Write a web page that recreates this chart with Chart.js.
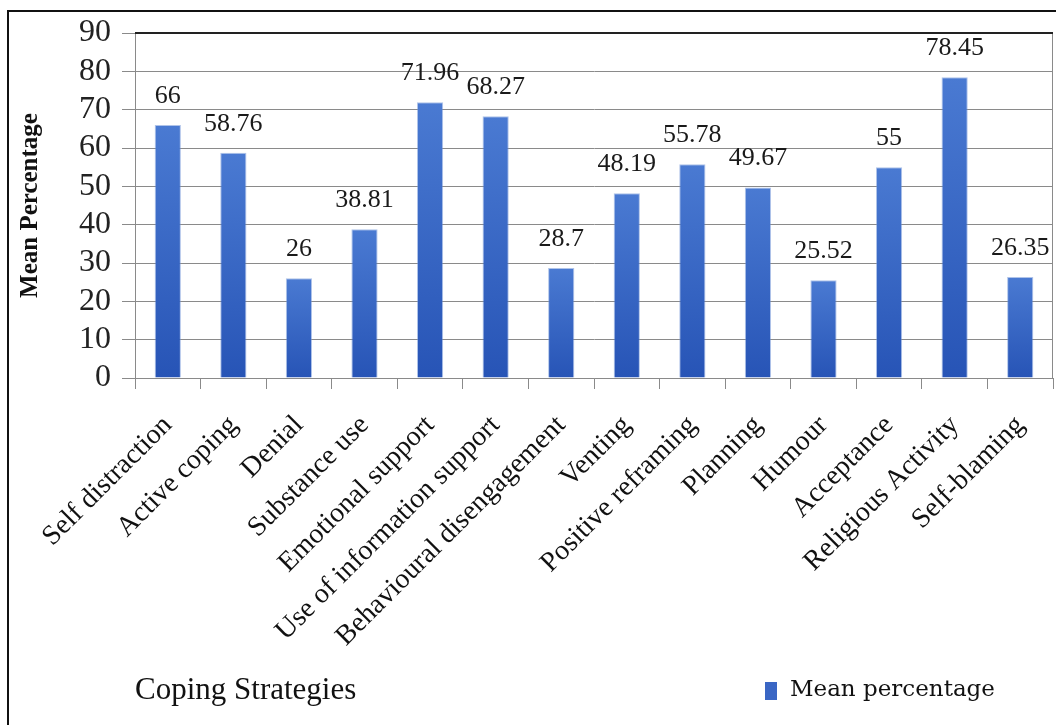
<!DOCTYPE html>
<html>
<head>
<meta charset="utf-8">
<script src="https://cdn.jsdelivr.net/npm/chart.js@4.4.1/dist/chart.umd.min.js"></script>
<style>
html, body { margin: 0; padding: 0; background: #fff; }
#frame { position: absolute; left: 7px; top: 10px; width: 1100px; height: 800px; border: 2px solid #111; }
#wrap { position: absolute; left: 0; top: 0; width: 1056px; height: 725px; }
</style>
</head>
<body>
<div id="frame"></div>
<div id="wrap"><canvas id="chart" width="1056" height="725"></canvas></div>
<script>
// coping strategy categories and the mean percentage for each
var strategies = ["Self distraction", "Active coping", "Denial", "Substance use", "Emotional support",
    "Use of information support", "Behavioural disengagement", "Venting", "Positive reframing",
    "Planning", "Humour", "Acceptance", "Religious Activity", "Self-blaming"];
var meanPercent = [66, 58.76, 26, 38.81, 71.96, 68.27, 28.7, 48.19, 55.78, 49.67, 25.52, 55, 78.45, 26.35];
var yTicks = [0, 10, 20, 30, 40, 50, 60, 70, 80, 90];
var seriesName = 'Mean percentage';

var serif = "'Liberation Serif', 'Times New Roman', serif";

function barFill(ctx){
    var chart = ctx.chart;
    if (ctx.type !== 'data' || !chart.chartArea) return '#3a66c4';
    var y = chart.scales.y;
    var g = chart.ctx.createLinearGradient(0, y.getPixelForValue(0), 0, y.getPixelForValue(ctx.raw));
    g.addColorStop(0, '#2754b6');
    g.addColorStop(1, '#4a7ad2');
    return g;
}

// value labels above each bar
var barLabels = {
    id: 'barLabels',
    afterDatasetsDraw: function(chart){
        var c = chart.ctx;
        var meta = chart.getDatasetMeta(0);
        c.save();
        c.font = "26px " + serif;
        c.fillStyle = '#1a1a1a';
        c.textAlign = 'center';
        c.textBaseline = 'middle';
        meta.data.forEach(function(bar, i){
            c.fillText(String(meanPercent[i]), bar.x, bar.y - 29);
        });
        c.restore();
    }
};

// plot area frame (top + right edges)
var plotFrame = {
    id: 'plotFrame',
    beforeDatasetsDraw: function(chart){
        var a = chart.chartArea, c = chart.ctx;
        c.save();
        c.strokeStyle = '#8a8a8a';
        c.lineWidth = 1;
        c.beginPath();
        c.moveTo(a.right - 0.5, a.top);
        c.lineTo(a.right - 0.5, a.bottom);
        c.stroke();
        c.strokeStyle = '#222';
        c.lineWidth = 2;
        c.beginPath();
        c.moveTo(a.left, a.top);
        c.lineTo(a.right, a.top);
        c.stroke();
        c.restore();
    }
};

// legend key sitting on the same row as the x axis title
var sideLegend = {
    id: 'sideLegend',
    afterDraw: function(chart){
        var c = chart.ctx;
        var x = 765, y = 690;
        c.save();
        c.fillStyle = '#3a66c4';
        c.fillRect(x, y - 8, 12, 18);
        c.font = "23px 'DejaVu Serif', serif";
        c.fillStyle = '#111';
        c.textAlign = 'left';
        c.textBaseline = 'middle';
        c.fillText(chart.data.datasets[0].label, x + 25, y);
        c.restore();
    }
};

var chart = new Chart(document.getElementById("chart").getContext("2d"), {
    type: 'bar',
    data: {
        labels: strategies,
        datasets: [{
            label: seriesName,
            data: meanPercent,
            backgroundColor: barFill,
            borderColor: 'rgba(110,145,215,0.55)',
            borderWidth: 1,
            barPercentage: 0.4,
            categoryPercentage: 1
        }]
    },
    options: {
        responsive: false,
        animation: false,
        devicePixelRatio: 1,
        layout: { padding: { left: 8, top: 33, right: 3, bottom: 0 } },
        scales: {
            x: {
                grid: { offset: true, drawOnChartArea: false, tickLength: 11, color: '#8a8a8a' },
                border: { color: '#8a8a8a' },
                ticks: {
                    autoSkip: false, minRotation: 45, maxRotation: 45,
                    font: { family: serif, size: 28 }, color: '#111', padding: 20
                },
                title: {
                    display: true, text: 'Coping Strategies', align: 'start',
                    font: { family: serif, size: 31 }, color: '#111',
                    padding: { top: 0, bottom: 16 }
                },
                afterFit: function(s){
                    s.height = 347;
                    s.paddingLeft = 0;
                    s.paddingRight = 0;
                }
            },
            y: {
                min: 0, max: 90,
                afterBuildTicks: function(s){ s.ticks = yTicks.map(function(v){ return { value: v }; }); },
                ticks: { autoSkip: false, font: { family: serif, size: 32 }, color: '#222', padding: 11 },
                grid: { color: '#8a8a8a', tickLength: 13 },
                border: { color: '#8a8a8a' },
                title: {
                    display: true, text: 'Mean Percentage',
                    font: { family: serif, size: 25, weight: 'bold' }, color: '#111',
                    padding: { top: 8, bottom: 0 }
                },
                afterFit: function(s){ s.width = 127; }
            }
        },
        plugins: {
            legend: { display: false },
            tooltip: { enabled: false }
        }
    },
    plugins: [plotFrame, barLabels, sideLegend]
});
</script>
</body>
</html>
